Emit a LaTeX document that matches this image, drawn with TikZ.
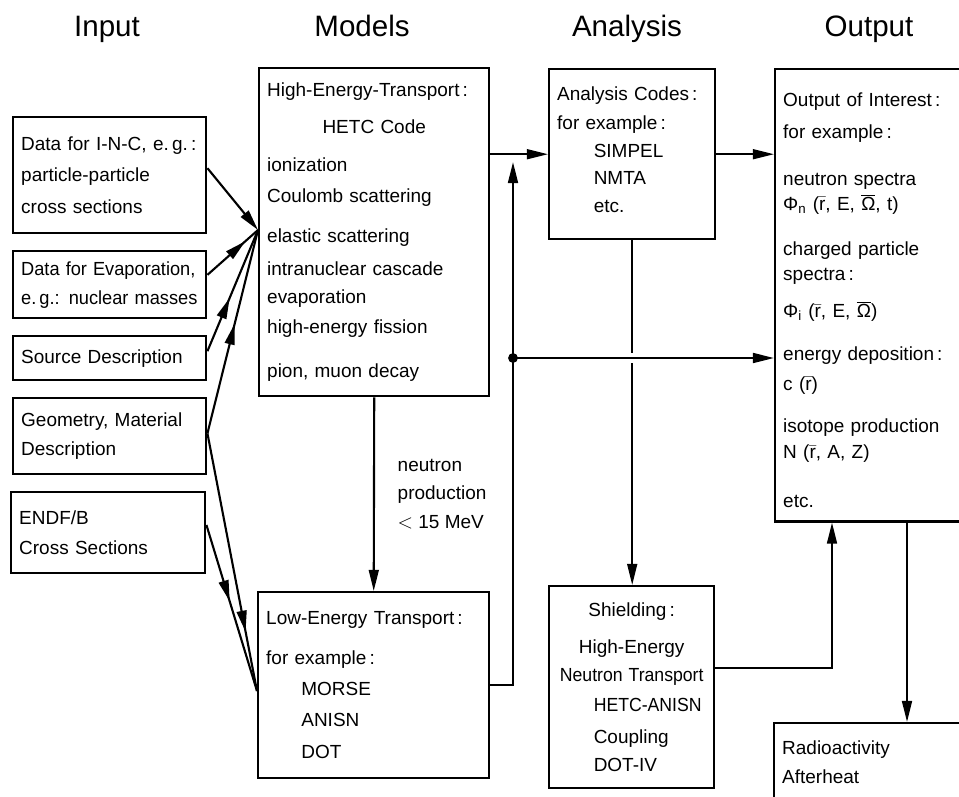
\documentclass[tikz,border=0pt]{standalone}
\usepackage{fontspec}
\usepackage{graphicx}
\setmainfont{Liberation Sans}
\usetikzlibrary{arrows.meta,calc,decorations.markings}

\newcommand{\vecr}{$\bar{\mbox{r}}$}
\newcommand{\vecOm}{$\overline{\mbox{Ω}}$}

\begin{document}
\begin{tikzpicture}[x=0.025cm, y=-0.025cm,
		box/.style={draw, line width=1.7pt, anchor=north west, align=left,
			inner xsep=0.2cm, inner ysep=0pt,
			font=\fontsize{13.5pt}{21.5pt}\selectfont},
		head/.style={anchor=base, font=\fontsize{21pt}{24pt}\selectfont},
		lbl/.style={align=left, font=\fontsize{13.5pt}{21.5pt}\selectfont},
		arr/.style={line width=1.5pt, -{Triangle[length=15pt, width=7pt]}},
		midtip/.style={line width=1.5pt, postaction={decorate},
			decoration={markings, mark=at position #1 with {\arrow{Triangle[length=15pt, width=7pt]}}}}]
	\useasboundingbox (0,0) rectangle (959,796);
	\clip (0,0) rectangle (959,796);
	\fill[white] (0,0) rectangle (959,796);

	% column headings
	\node[head] (hin)  at (107,36) {Input};
	\node[head] (hmod) at (362,36) {Models};
	\node[head] (hana) at (627,36) {Analysis};
	\node[head] (hout) at (869,36) {Output};

	% input boxes
	\node[box, text width=4.425cm, minimum height=2.9cm] (inc) at (12,116)
		{\mbox{Data for I-N-C, e.\,g.\,:}\\[1pt]
		 particle-particle\\[1pt]
		 cross sections};
	\node[box, text width=4.425cm, minimum height=1.675cm] (evap) at (12,250)
		{\scalebox{0.96}[1]{Data for Evaporation,}\\[-1pt]
		 \scalebox{0.96}[1]{e.\,g.: nuclear masses}};
	\node[box, text width=4.425cm, minimum height=1.1cm] (src) at (12,335)
		{Source Description};
	\node[box, text width=4.425cm, minimum height=1.9cm] (geo) at (12,397)
		{\mbox{Geometry, Material}\\[-1pt]
		 Description};
	\node[box, text width=4.45cm, minimum height=2.025cm] (endf) at (10,491)
		{ENDF/B\\
		 Cross Sections};

	% models
	\node[box, text width=5.35cm, minimum height=8.2cm] (het) at (258,67)
		{High-Energy-Transport\,:\\[5pt]
		 \makebox[\linewidth]{HETC Code}\\[5pt]
		 ionization\\[1pt]
		 Coulomb scattering\\[7pt]
		 elastic scattering\\[2pt]
		 intranuclear cascade\\[-2pt]
		 evaporation\\
		 high-energy fission\\[10pt]
		 pion, muon decay};
	\node[box, text width=5.375cm, minimum height=4.65cm] (let) at (257,591)
		{Low-Energy Transport\,:\\[7pt]
		 for example\,:\\
		 \hspace*{25pt}MORSE\\[1pt]
		 \hspace*{25pt}ANISN\\[1pt]
		 \hspace*{25pt}DOT};

	% analysis
	\node[box, text width=3.75cm, minimum height=4.25cm] (ana) at (548,68)
		{Analysis Codes\,:\\[-0.5pt]
		 for example\,:\\[-2pt]
		 \hspace*{26pt}SIMPEL\\[-2pt]
		 \hspace*{26pt}NMTA\\[-2pt]
		 \hspace*{26pt}etc.\rule[-7pt]{0pt}{7pt}};
	\node[box, text width=3.725cm, minimum height=5.05cm] (shd) at (548,585)
		{\makebox[\linewidth]{Shielding\,:}\\[5pt]
		 \makebox[\linewidth]{High-Energy}\\[-1.5pt]
		 \makebox[\linewidth]{\scalebox{0.93}[1]{Neutron Transport}}\\
		 \hspace*{26pt}\scalebox{0.93}[1]{HETC-ANISN}\\[1pt]
		 \hspace*{26pt}Coupling\\[-1.5pt]
		 \hspace*{26pt}\mbox{DOT-IV}};

	% output
	\node[box, text width=4.35cm, minimum height=11.3cm] (out) at (774,68)
		{\rule{0pt}{17pt}Output of Interest\,:\\[1pt]
		 for example\,:\\[12pt]
		 neutron spectra\\[-4pt]
		 Φ\textsubscript{n} (\vecr, E, \vecOm, t)\\[11pt]
		 charged particle\\[-4pt]
		 spectra\,:\\[5pt]
		 Φ\textsubscript{i} (\vecr, E, \vecOm)\\[9pt]
		 energy deposition\,:\\[-0.5pt]
		 c (\vecr)\\[9pt]
		 isotope production\\[-3pt]
		 N (\vecr, A, Z)\\[13pt]
		 etc.};
	\node[box, text width=4.35cm, minimum height=1.95cm] (rad) at (773,722)
		{Radioactivity\\[-1pt]
		 Afterheat};

	\coordinate (hetin) at (het.west |- 0,230);
	\coordinate (letin) at (let.west |- 0,691);
	\coordinate (tap)   at (513,162);
	\coordinate (split) at (513,358);

	% inputs into the high-energy code
	\draw[arr] ([yshift=5pt]inc.east) -- (hetin);
	\draw[midtip=0.75] ([yshift=7pt]evap.east) -- (hetin);
	\draw[midtip=0.44] ([yshift=5pt]src.east) -- (hetin);
	\draw[midtip=0.54] ([yshift=2pt]geo.east) -- (hetin);
	% inputs into the low-energy code
	\draw[midtip=0.77] ([yshift=2pt]geo.east) -- (letin);
	\draw[midtip=0.46] ([yshift=5.5pt]endf.east) -- (letin);

	\draw[arr] (het.south) -- node[lbl, pos=0.5, anchor=west, xshift=0.45cm]
		{neutron\\[-2pt] production\\[-1pt] $<$ 15 MeV} (let.north);
	\draw[arr] (het.east |- ana.west) -- (ana.west);
	\draw[arr] (ana.east) -- (ana.east -| out.west);
	\draw[arr] (let.east) -| (tap);
	\draw[arr] (ana.south) -- (ana.south |- shd.north);
	\fill (split) circle (3.5pt);
	\draw[arr, preaction={draw=white, line width=7pt, -, shorten <=14pt, shorten >=24pt}]
		(split) -- (split -| out.west);
	\draw[arr] (shd.east |- 0,668) -| ($(out.south west)+(58,0)$);
	\draw[arr] ($(out.south west)+(133,0)$) -- ($(rad.north west)+(134,0)$);
\end{tikzpicture}
\end{document}
